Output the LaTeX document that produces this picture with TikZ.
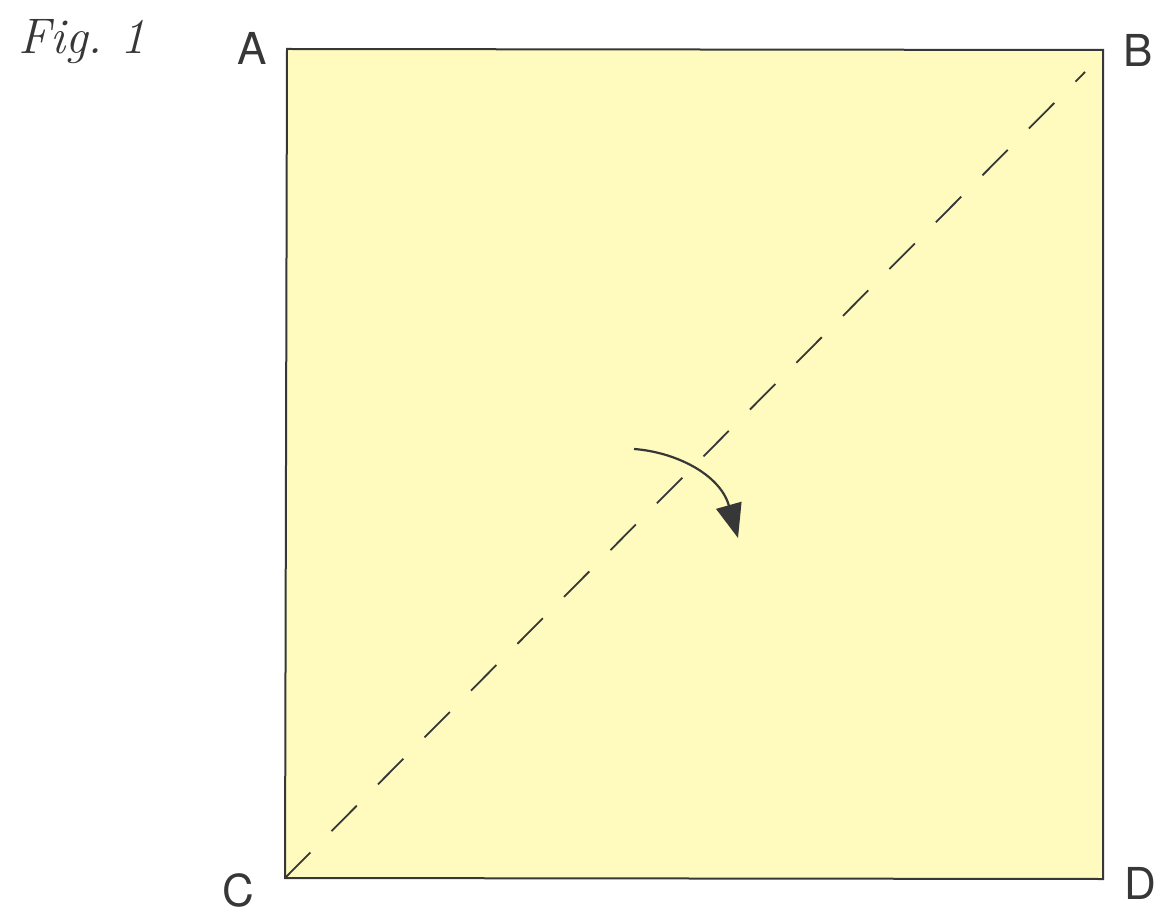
\documentclass[tikz,border=0pt]{standalone}
\usepackage{fontspec}
\newfontfamily\labfont{TeX Gyre Heros}
\usetikzlibrary{arrows.meta}
\definecolor{paper}{RGB}{255,251,190}
\definecolor{ink}{RGB}{55,55,55}
\tikzset{
  corner/.style={font=\labfont\fontsize{44}{44}\selectfont, text=ink, inner sep=0pt},
  fold/.style={draw=ink, line width=1.8pt, dash pattern=on 36pt off 30pt},
  turn/.style={draw=ink, line width=2.2pt, -{Triangle[length=34pt,width=26pt]}}
}
\begin{document}
\begin{tikzpicture}[x=1pt,y=1pt]
\useasboundingbox (0,0) rectangle (1161,914);
% corners (y = 914 - pixel y)
\coordinate (cA) at (287,865);
\coordinate (cB) at (1103,864);
\coordinate (cC) at (285,36);
\coordinate (cD) at (1103,35);
\coordinate (fEnd) at (1085,842);
\filldraw[fill=paper, draw=ink, line width=2pt] (cA) -- (cB) -- (cD) -- (cC) -- cycle;
\draw[fold] (cC) -- (fEnd);
\coordinate (aS) at (634,465);
\coordinate (aE) at (738,376);
\draw[turn] (aS) .. controls (675,462) and (720,440) .. (aE);
\node[corner] (lA) at (252,866) {A};
\node[corner] (lB) at (1138,864) {B};
\node[corner] (lC) at (238,24) {C};
\node[corner] (lD) at (1140,31) {D};
\node[font=\itshape\fontsize{50}{50}\selectfont, text=ink, inner sep=0pt] (fig) at (82,872) {Fig.\ 1};
\end{tikzpicture}
\end{document}
